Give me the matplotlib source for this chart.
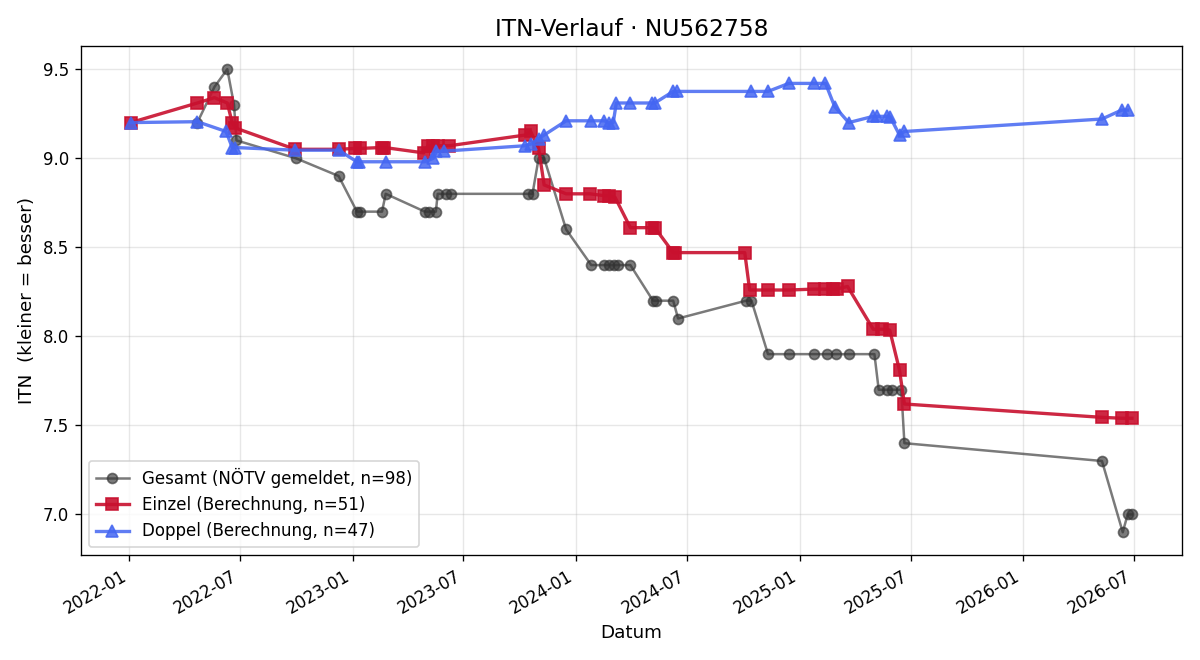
import pandas as pd
import matplotlib
matplotlib.use('Agg')
import matplotlib.pyplot as plt
import matplotlib.dates as mdates

# Gesamt (gemeldet)
gesamt_dates = [
    '2022-04-22', '2022-05-20', '2022-06-10', '2022-06-21', '2022-06-25', '2022-09-30',
    '2022-12-09', '2023-01-08', '2023-01-13', '2023-02-18', '2023-02-24', '2023-04-29',
    '2023-05-05', '2023-05-17', '2023-05-20', '2023-06-02', '2023-06-10', '2023-10-14',
    '2023-10-22', '2023-11-01', '2023-11-10', '2023-12-16', '2024-01-26', '2024-02-16',
    '2024-02-24', '2024-03-03', '2024-03-10', '2024-03-30', '2024-05-06', '2024-05-11',
    '2024-06-08', '2024-06-16', '2024-10-05', '2024-10-14', '2024-11-10', '2024-12-14',
    '2025-01-24', '2025-02-14', '2025-03-01', '2025-03-22', '2025-05-03', '2025-05-10',
    '2025-05-24', '2025-06-01', '2025-06-16', '2025-06-21', '2026-05-10', '2026-06-13',
    '2026-06-21', '2026-06-28',
]
gesamt_itn = [
    9.2, 9.4, 9.5, 9.3, 9.1, 9.0,
    8.9, 8.7, 8.7, 8.7, 8.8, 8.7,
    8.7, 8.7, 8.8, 8.8, 8.8, 8.8,
    8.8, 9.0, 9.0, 8.6, 8.4, 8.4,
    8.4, 8.4, 8.4, 8.4, 8.2, 8.2,
    8.2, 8.1, 8.2, 8.2, 7.9, 7.9,
    7.9, 7.9, 7.9, 7.9, 7.9, 7.7,
    7.7, 7.7, 7.7, 7.4, 7.3, 6.9,
    7.0, 7.0,
]

# Einzel (Berechnung)
einzel_dates = [
    '2022-01-03', '2022-04-22', '2022-05-20', '2022-06-10', '2022-06-18', '2022-06-23',
    '2022-09-29', '2022-12-09', '2023-01-05', '2023-01-13', '2023-02-18', '2023-02-22',
    '2023-04-27', '2023-05-04', '2023-05-13', '2023-05-21', '2023-06-08', '2023-10-10',
    '2023-10-19', '2023-11-01', '2023-11-10', '2023-12-16', '2024-01-24', '2024-02-16',
    '2024-02-24', '2024-03-05', '2024-03-30', '2024-05-04', '2024-05-09', '2024-06-08',
    '2024-06-11', '2024-10-03', '2024-10-11', '2024-11-10', '2024-12-14', '2025-01-24',
    '2025-02-12', '2025-02-25', '2025-03-02', '2025-03-20', '2025-05-01', '2025-05-16',
    '2025-05-28', '2025-06-13', '2025-06-21', '2026-05-10', '2026-06-11', '2026-06-28',
]
einzel_itn = [
    9.2, 9.31, 9.34, 9.31, 9.20, 9.17,
    9.05, 9.05, 9.055, 9.055, 9.06, 9.06,
    9.03, 9.07, 9.07, 9.07, 9.07, 9.13,
    9.15, 9.055, 8.85, 8.80, 8.80, 8.79,
    8.79, 8.78, 8.61, 8.61, 8.61, 8.47,
    8.47, 8.47, 8.26, 8.26, 8.26, 8.265,
    8.265, 8.265, 8.265, 8.28, 8.04, 8.04,
    8.035, 7.81, 7.62, 7.545, 7.54, 7.54,
]

# Doppel (Berechnung)
doppel_dates = [
    '2022-01-03', '2022-04-22', '2022-06-08', '2022-06-18', '2022-06-23', '2022-09-29',
    '2022-12-09', '2023-01-08', '2023-01-11', '2023-02-24', '2023-04-29', '2023-05-13',
    '2023-05-18', '2023-05-31', '2023-10-10', '2023-10-20', '2023-11-01', '2023-11-10',
    '2023-12-16', '2024-01-26', '2024-02-16', '2024-02-24', '2024-03-02', '2024-03-07',
    '2024-03-30', '2024-05-04', '2024-05-09', '2024-06-08', '2024-06-14', '2024-10-13',
    '2024-11-10', '2024-12-14', '2025-01-24', '2025-02-12', '2025-02-27', '2025-03-22',
    '2025-05-01', '2025-05-08', '2025-05-24', '2025-05-29', '2025-06-13', '2025-06-21',
    '2026-05-10', '2026-06-11', '2026-06-21',
]
doppel_itn = [
    9.2, 9.205, 9.15, 9.06, 9.06, 9.045,
    9.045, 8.98, 8.98, 8.98, 8.98, 9.0,
    9.04, 9.04, 9.07, 9.08, 9.11, 9.13,
    9.21, 9.21, 9.21, 9.20, 9.20, 9.31,
    9.31, 9.31, 9.31, 9.375, 9.375, 9.375,
    9.375, 9.42, 9.42, 9.42, 9.29, 9.20,
    9.235, 9.235, 9.235, 9.23, 9.13, 9.15,
    9.22, 9.27, 9.27,
]

SPIELER = 'NU562758'


def plot_verlauf(filename):
    fig, ax = plt.subplots(figsize=(10, 5.5), dpi=120)

    ax.plot(pd.to_datetime(gesamt_dates), gesamt_itn, marker='o', markersize=6,
            color='#333333', alpha=0.65, linewidth=1.5,
            label='Gesamt (NÖTV gemeldet, n=98)')
    ax.plot(pd.to_datetime(einzel_dates), einzel_itn, marker='s', markersize=7,
            color='#c8102e', alpha=0.9, linewidth=2,
            label='Einzel (Berechnung, n=51)')
    ax.plot(pd.to_datetime(doppel_dates), doppel_itn, marker='^', markersize=7,
            color='#4466f2', alpha=0.85, linewidth=2,
            label='Doppel (Berechnung, n=47)')

    ax.xaxis.set_major_locator(mdates.MonthLocator(bymonth=[1, 7]))
    ax.xaxis.set_major_formatter(mdates.DateFormatter('%Y-%m'))
    fig.autofmt_xdate()

    ax.set_title(f'ITN-Verlauf · {SPIELER}', fontsize=14)
    ax.set_xlabel('Datum', fontsize=11)
    ax.set_ylabel('ITN  (kleiner = besser)', fontsize=11)
    ax.grid(True, alpha=0.3)
    ax.legend(loc='lower left')

    fig.tight_layout()
    fig.savefig(filename)


if __name__ == '__main__':
    plot_verlauf('out.png')
